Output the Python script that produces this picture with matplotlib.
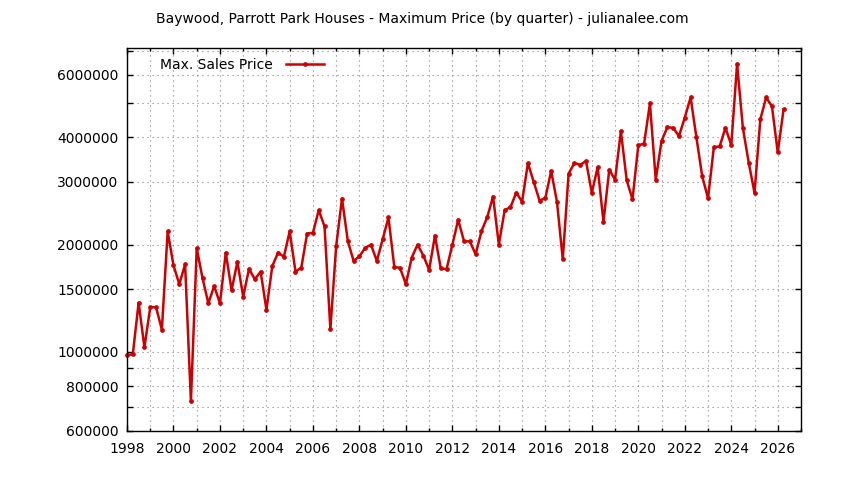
import numpy as np
import matplotlib
matplotlib.use("Agg")
import matplotlib.pyplot as plt
from matplotlib.ticker import FixedLocator, FuncFormatter, MultipleLocator

# quarterly max prices, 1998 Q1 .. 2026 Q2
start_year = 1998
prices = [
    980000, 985000, 1375000, 1030000,      # 1998
    1335000, 1335000, 1155000, 2180000,    # 1999
    1750000, 1550000, 1760000, 728000,     # 2000
    1955000, 1610000, 1370000, 1530000,    # 2001
    1370000, 1900000, 1490000, 1790000,    # 2002
    1430000, 1710000, 1600000, 1680000,    # 2003
    1313000, 1740000, 1900000, 1850000,    # 2004
    2180000, 1680000, 1725000, 2150000,    # 2005
    2160000, 2500000, 2250000, 1158000,    # 2006
    1980000, 2695000, 2050000, 1800000,    # 2007
    1855000, 1960000, 2000000, 1800000,    # 2008
    2070000, 2385000, 1735000, 1720000,    # 2009
    1550000, 1840000, 2000000, 1865000,    # 2010
    1700000, 2120000, 1715000, 1708000,    # 2011
    2000000, 2350000, 2045000, 2043000,    # 2012
    1880000, 2180000, 2390000, 2730000,    # 2013
    2000000, 2500000, 2550000, 2800000,    # 2014
    2640000, 3390000, 3000000, 2660000,    # 2015
    2705000, 3220000, 2640000, 1820000,    # 2016
    3165000, 3390000, 3350000, 3435000,    # 2017
    2795000, 3300000, 2320000, 3245000,    # 2018
    3045000, 4165000, 3035000, 2680000,    # 2019
    3800000, 3845000, 4985000, 3045000,    # 2020
    3910000, 4275000, 4255000, 4035000,    # 2021
    4550000, 5180000, 4000000, 3110000,    # 2022
    2700000, 3755000, 3775000, 4255000,    # 2023
    3810000, 6430000, 4250000, 3400000,    # 2024
    2795000, 4495000, 5180000, 4890000,    # 2025
    3630000, 4795000,                      # 2026
]
dates = [start_year + i * 0.25 for i in range(len(prices))]

y_major = [600000, 800000, 1000000, 1500000, 2000000, 3000000, 4000000, 6000000]
y_minor = [700000, 900000, 5000000, 7000000]

plt.rcParams['font.family'] = ['DejaVu Sans']
plt.rcParams['font.size'] = 10

fig = plt.figure(figsize=(8.44, 4.8), dpi=100)
ax = fig.add_axes([127 / 844, 1 - 431 / 480, (801 - 127) / 844, (431 - 48) / 480])

ax.plot(dates, prices, color='#cc0000', linewidth=1.8, marker='o', markersize=2.4,
        label='Max. Sales Price', clip_on=False)

ax.set_yscale('log')
ax.set_xlim(1998, 2027)
ax.set_ylim(600000, 7130000)

ax.xaxis.set_major_locator(MultipleLocator(2))
ax.xaxis.set_minor_locator(MultipleLocator(1))
ax.yaxis.set_major_locator(FixedLocator(y_major))
ax.yaxis.set_minor_locator(FixedLocator(y_minor))
ax.yaxis.set_major_formatter(FuncFormatter(lambda v, p: '%d' % v))
ax.yaxis.set_minor_formatter(FuncFormatter(lambda v, p: ''))
ax.xaxis.set_major_formatter(FuncFormatter(lambda v, p: '%d' % v))

ax.tick_params(which='major', direction='in', top=True, right=True, length=4.5, width=1, labelsize=10)
ax.tick_params(axis='x', which='minor', direction='in', top=True, length=2.5, width=1)
ax.tick_params(axis='y', which='minor', direction='in', right=True, length=4, width=1)
ax.tick_params(axis='x', pad=8)
ax.tick_params(axis='y', pad=6)

ax.grid(True, which='both', color='#808080', linestyle=(0, (1, 3.5)), linewidth=0.8)
ax.set_axisbelow(True)

for s in ax.spines.values():
    s.set_linewidth(1)

ax.legend(loc='upper left', frameon=False, markerfirst=False, handlelength=2.8,
          bbox_to_anchor=(0.035, 1.0), borderaxespad=0.3, handletextpad=0.9)

fig.text(0.5, 1 - 19 / 480, 'Baywood, Parrott Park Houses - Maximum Price (by quarter) - julianalee.com',
         ha='center', va='center', fontsize=10)

fig.savefig('out.png', dpi=100)
